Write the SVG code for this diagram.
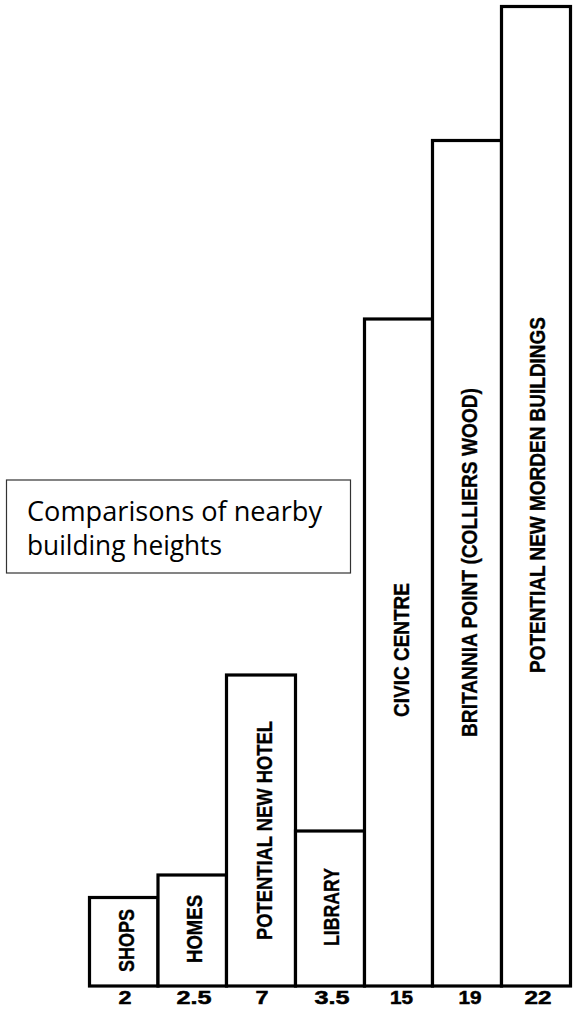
<svg xmlns="http://www.w3.org/2000/svg" width="581" height="1018" viewBox="0 0 581 1018">
<style>
.bar{fill:#fff;stroke:#000;stroke-width:3.2;stroke-linejoin:miter}
.lbl{font-family:"Liberation Sans",Arial,sans-serif;font-weight:bold;font-size:22.5px;fill:#000;stroke:#000;stroke-width:0.35}
.num{font-family:"Liberation Sans",Arial,sans-serif;font-weight:bold;font-size:18px;fill:#000;stroke:#000;stroke-width:0.5;text-anchor:middle}
.cap{font-family:"Open Sans","Noto Sans",sans-serif;font-size:27px;fill:#000}
</style>
<rect width="581" height="1018" fill="#fff"/>
<g id="caption">
<rect x="6.5" y="480" width="344" height="93" fill="#fff" stroke="#333" stroke-width="1.2"/>
<text class="cap" x="27" y="521" textLength="295" lengthAdjust="spacingAndGlyphs">Comparisons of nearby</text>
<text class="cap" x="27" y="555" textLength="195" lengthAdjust="spacingAndGlyphs">building heights</text>
</g>
<g id="shops">
<rect class="bar" x="89.5" y="897.5" width="68.5" height="88.5"/>
<text class="lbl" transform="translate(133.5,972) rotate(-90)" textLength="63" lengthAdjust="spacingAndGlyphs">SHOPS</text>
<text class="num" x="125" y="1003.5" textLength="13" lengthAdjust="spacingAndGlyphs">2</text>
</g>
<g id="homes">
<rect class="bar" x="158" y="875" width="68.5" height="111"/>
<text class="lbl" transform="translate(201.5,963) rotate(-90)" textLength="68" lengthAdjust="spacingAndGlyphs">HOMES</text>
<text class="num" x="194" y="1003.5" textLength="35" lengthAdjust="spacingAndGlyphs">2.5</text>
</g>
<g id="hotel">
<rect class="bar" x="226.5" y="675" width="69" height="311"/>
<text class="lbl" transform="translate(271.5,940) rotate(-90)" textLength="219" lengthAdjust="spacingAndGlyphs">POTENTIAL NEW HOTEL</text>
<text class="num" x="262" y="1003.5" textLength="13" lengthAdjust="spacingAndGlyphs">7</text>
</g>
<g id="library">
<rect class="bar" x="295.5" y="831" width="69" height="155"/>
<text class="lbl" transform="translate(338.5,946) rotate(-90)" textLength="78" lengthAdjust="spacingAndGlyphs">LIBRARY</text>
<text class="num" x="332" y="1003.5" textLength="35" lengthAdjust="spacingAndGlyphs">3.5</text>
</g>
<g id="civic">
<rect class="bar" x="364.5" y="319" width="68" height="667"/>
<text class="lbl" transform="translate(408.5,717) rotate(-90)" textLength="134" lengthAdjust="spacingAndGlyphs">CIVIC CENTRE</text>
<text class="num" x="401.5" y="1003.5" textLength="23" lengthAdjust="spacingAndGlyphs">15</text>
</g>
<g id="britannia">
<rect class="bar" x="432.5" y="140.5" width="69" height="845.5"/>
<text class="lbl" transform="translate(476.5,737) rotate(-90)" textLength="349" lengthAdjust="spacingAndGlyphs">BRITANNIA POINT (COLLIERS WOOD)</text>
<text class="num" x="470" y="1003.5" textLength="23" lengthAdjust="spacingAndGlyphs">19</text>
</g>
<g id="morden">
<rect class="bar" x="501.5" y="6.5" width="69" height="979.5"/>
<text class="lbl" transform="translate(545,673) rotate(-90)" textLength="356" lengthAdjust="spacingAndGlyphs">POTENTIAL NEW MORDEN BUILDINGS</text>
<text class="num" x="538" y="1003.5" textLength="27" lengthAdjust="spacingAndGlyphs">22</text>
</g>
</svg>
